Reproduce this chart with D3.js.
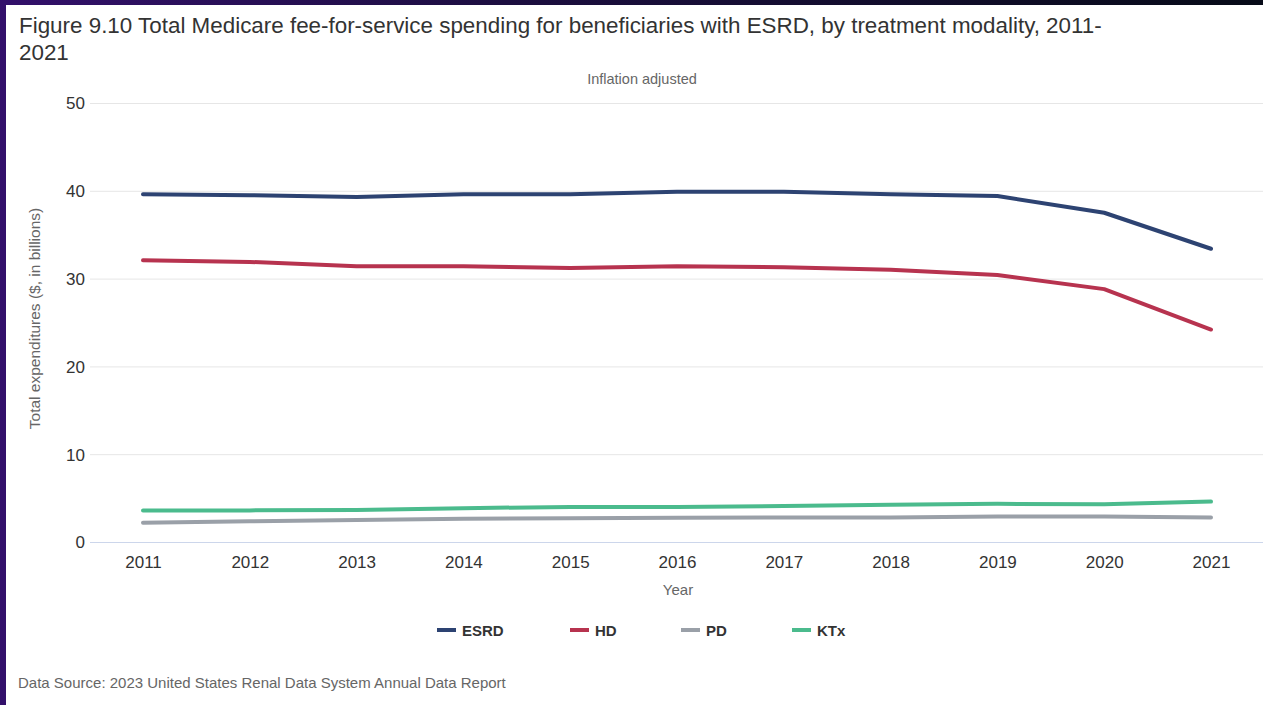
<!DOCTYPE html>
<html>
<head>
<meta charset="utf-8">
<script src="https://cdn.jsdelivr.net/npm/d3@7"></script>
<style>
  html, body { margin: 0; padding: 0; }
  body {
    width: 1263px; height: 705px; overflow: hidden;
    background: linear-gradient(90deg, #33106b 0%, #1c0e40 40%, #070b18 100%);
  }
  #panel {
    position: absolute; left: 6px; top: 5px; width: 1257px; height: 700px;
    background: #ffffff;
  }
  svg { display: block; font-family: "Liberation Sans", Arial, sans-serif; }
</style>
</head>
<body>
<div id="panel"></div>
<script>
// Medicare FFS spending for ESRD beneficiaries, $ billions (inflation adjusted)
const years = [2011, 2012, 2013, 2014, 2015, 2016, 2017, 2018, 2019, 2020, 2021];
const esrd = [39.6, 39.5, 39.3, 39.6, 39.6, 39.9, 39.9, 39.6, 39.4, 37.5, 33.4];
const hd   = [32.1, 31.9, 31.4, 31.4, 31.2, 31.4, 31.3, 31.0, 30.4, 28.8, 24.2];
const pd   = [2.2, 2.35, 2.5, 2.65, 2.7, 2.75, 2.8, 2.8, 2.9, 2.9, 2.8];
const ktx  = [3.6, 3.6, 3.65, 3.85, 4.0, 4.0, 4.1, 4.25, 4.35, 4.3, 4.6];
const yTicks = [0, 10, 20, 30, 40, 50];

const seriesNames = ["ESRD", "HD", "PD", "KTx"];
const seriesValues = [esrd, hd, pd, ktx];
const seriesColors = ["#2d4372", "#b7334f", "#9aa0a8", "#4bbb8d"];

const W = 1257, H = 700;   // panel size
const svg = d3.select("#panel").append("svg").attr("width", W).attr("height", H);

const plotLeft = 84, plotRight = 1257;
const x = d3.scalePoint().domain(years).range([137, 1205]);
const y = d3.scaleLinear().domain([0, 50]).range([537, 98]);

// Title
const title = svg.append("text").attr("x", 13).attr("y", 28)
  .attr("fill", "#333333").style("font-size", "22.4px");
title.append("tspan").attr("x", 13).attr("dy", 0)
  .text("Figure 9.10 Total Medicare fee-for-service spending for beneficiaries with ESRD, by treatment modality, 2011-");
title.append("tspan").attr("x", 13).attr("dy", 27).text("2021");

svg.append("text").attr("x", 636).attr("y", 79).attr("text-anchor", "middle")
  .attr("fill", "#666666").style("font-size", "14.5px").text("Inflation adjusted");

// Horizontal grid
const yAxis = d3.axisLeft(y).tickValues(yTicks).tickSize(-(plotRight - plotLeft)).tickPadding(6);
const gy = svg.append("g").attr("transform", `translate(${plotLeft},0)`).call(yAxis);
gy.select(".domain").remove();
gy.selectAll(".tick line").attr("stroke", d => d === 0 ? "#ccd6eb" : "#e6e6e6").attr("stroke-width", 1);
gy.selectAll(".tick text").attr("fill", "#333333").style("font-size", "17px")
  .attr("x", -5).attr("dy", "0.35em").style("font-family", "Liberation Sans, Arial, sans-serif");

// X axis labels
const xAxis = d3.axisBottom(x).tickSize(0).tickPadding(0);
const gx = svg.append("g").attr("transform", `translate(0,${y(0)})`).call(xAxis);
gx.select(".domain").remove();
gx.selectAll(".tick text").attr("fill", "#333333").style("font-size", "17px")
  .attr("y", 26).attr("dy", 0).style("font-family", "Liberation Sans, Arial, sans-serif");

// Axis titles
svg.append("text").attr("x", 672).attr("y", 590).attr("text-anchor", "middle")
  .attr("fill", "#666666").style("font-size", "15px").text("Year");
svg.append("text").attr("transform", `translate(34,${(y(0) + y(50)) / 2 - 4}) rotate(-90)`)
  .attr("text-anchor", "middle").attr("fill", "#666666").style("font-size", "15.5px")
  .text("Total expenditures ($, in billions)");

// Lines
const line = d3.line().x((d, i) => x(years[i])).y(d => y(d));
seriesValues.forEach((vals, k) => {
  svg.append("path").datum(vals).attr("d", line)
    .attr("fill", "none").attr("stroke", seriesColors[k]).attr("stroke-width", 4)
    .attr("stroke-linejoin", "round").attr("stroke-linecap", "round");
});

// Legend
const legendX = [431, 564, 675, 786];
const lg = svg.append("g").attr("transform", "translate(0,625)");
seriesNames.forEach((name, k) => {
  const g = lg.append("g").attr("transform", `translate(${legendX[k]},0)`);
  g.append("line").attr("x1", 0).attr("x2", 19).attr("y1", 0).attr("y2", 0)
    .attr("stroke", seriesColors[k]).attr("stroke-width", 4);
  g.append("text").attr("x", 25).attr("y", 5.5).attr("fill", "#333333")
    .style("font-size", "15px").style("font-weight", "bold").text(name);
});

// Source note
svg.append("text").attr("x", 12).attr("y", 683).attr("fill", "#666666")
  .style("font-size", "15px").text("Data Source: 2023 United States Renal Data System Annual Data Report");
</script>
</body>
</html>
